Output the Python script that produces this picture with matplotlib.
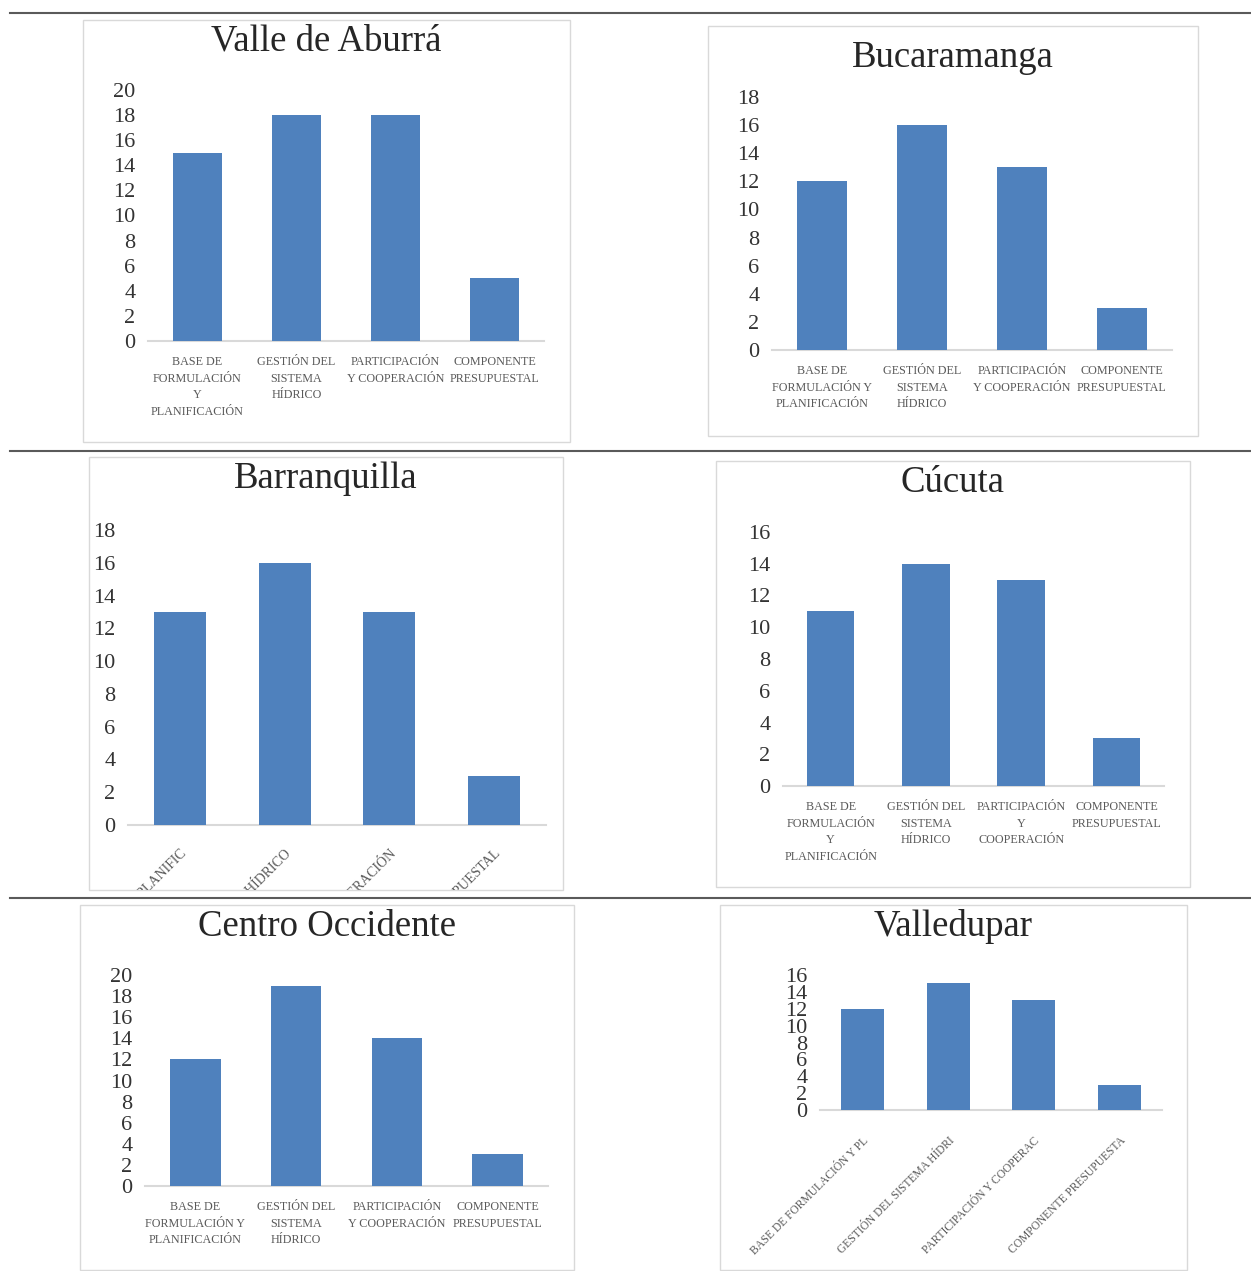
import matplotlib.pyplot as plt
from matplotlib.patches import Rectangle
from matplotlib.lines import Line2D

W, H = 1251, 1271

titles = ["Valle de Aburrá", "Bucaramanga", "Barranquilla", "Cúcuta",
          "Centro Occidente", "Valledupar"]

valle_aburra = [15, 18, 18, 5]
bucaramanga = [12, 16, 13, 3]
barranquilla = [13, 16, 13, 3]
cucuta = [11, 14, 13, 3]
centro_occidente = [12, 19, 14, 3]
valledupar = [12, 15, 13, 3]

ymax = [20, 18, 18, 16, 20, 16]

labels_a = ["BASE DE\nFORMULACIÓN\nY\nPLANIFICACIÓN", "GESTIÓN DEL\nSISTEMA\nHÍDRICO",
            "PARTICIPACIÓN\nY COOPERACIÓN", "COMPONENTE\nPRESUPUESTAL"]
labels_b = ["BASE DE\nFORMULACIÓN Y\nPLANIFICACIÓN", "GESTIÓN DEL\nSISTEMA\nHÍDRICO",
            "PARTICIPACIÓN\nY COOPERACIÓN", "COMPONENTE\nPRESUPUESTAL"]
labels_c = ["BASE DE FORMULACIÓN Y PLANIFIC", "GESTIÓN DEL SISTEMA HÍDRICO",
            "PARTICIPACIÓN Y COOPERACIÓN", "COMPONENTE PRESUPUESTAL"]
labels_d = ["BASE DE\nFORMULACIÓN\nY\nPLANIFICACIÓN", "GESTIÓN DEL\nSISTEMA\nHÍDRICO",
            "PARTICIPACIÓN\nY\nCOOPERACIÓN", "COMPONENTE\nPRESUPUESTAL"]
labels_f = ["BASE DE FORMULACIÓN Y PL", "GESTIÓN DEL SISTEMA HÍDRI",
            "PARTICIPACIÓN Y COOPERAC", "COMPONENTE PRESUPUESTA"]

BAR = "#4f81bd"
SERIF = ["Liberation Serif", "DejaVu Serif"]


def fig_rect(x0, y0, x1, y1):
    return [x0 / W, 1 - y1 / H, (x1 - x0) / W, (y1 - y0) / H]


fig = plt.figure(figsize=(W / 100, H / 100), dpi=100)

# table rules
for y in [13, 451, 898]:
    fig.add_artist(Line2D([10 / W, 1], [1 - y / H] * 2, color="#5a5a5a", lw=1.5))

panels = [
    # box, axes, title y, values, labels, rotated
    ((83, 20, 570, 442), (148, 90, 544, 341), 41, valle_aburra, labels_a, False),
    ((708, 26, 1198, 436), (772, 97, 1172, 350), 58, bucaramanga, labels_b, False),
    ((89, 457, 563, 890), (128, 530, 546, 825), 479, barranquilla, labels_c, True),
    ((716, 461, 1190, 887), (783, 532, 1164, 786), 483, cucuta, labels_d, False),
    ((80, 905, 574, 1270), (145, 975, 548, 1186), 927, centro_occidente, labels_b, False),
    ((720, 905, 1187, 1270), (820, 975, 1162, 1110), 927, valledupar, labels_f, True),
]

for i, (box, axr, ty, vals, labs, rot) in enumerate(panels):
    bx = fig_rect(*box)
    rect = Rectangle((bx[0], bx[1]), bx[2], bx[3], transform=fig.transFigure,
                     facecolor="none", edgecolor="#d9d9d9", lw=1, zorder=-1)
    fig.add_artist(rect)
    fig.text((box[0] + box[2]) / 2 / W, 1 - ty / H, titles[i], ha="center",
             va="center", fontsize=26.5, family=SERIF, color="#262626")

    ax = fig.add_axes(fig_rect(*axr))
    ax.patch.set_alpha(0)
    x = range(len(vals))
    ax.bar(x, vals, width=0.5, color=BAR, zorder=3)
    ax.set_xlim(-0.5, 3.5)
    ax.set_ylim(0, ymax[i])
    ax.set_yticks(range(0, ymax[i] + 1, 2))
    for s in ["top", "right", "left"]:
        ax.spines[s].set_visible(False)
    ax.spines["bottom"].set_color("#d9d9d9")
    ax.spines["bottom"].set_linewidth(1.5)
    ax.tick_params(axis="y", length=0, pad=9, labelsize=16,
                   labelcolor="#333333")
    for t in ax.get_yticklabels():
        t.set_family(SERIF)
    ax.set_xticks(list(x))
    if rot:
        fs = 10 if i == 2 else 8.3
        ax.set_xticklabels(labs, rotation=45, ha="right", va="top",
                           rotation_mode="anchor", fontsize=fs, family=SERIF,
                           color="#595959")
        ax.tick_params(axis="x", length=0, pad=16 if i == 2 else 18)
        for t in ax.get_xticklabels():
            t.set_clip_on(True)
            t.set_clip_path(rect)
    else:
        ax.set_xticklabels(labs, fontsize=8.7, family=SERIF, color="#595959",
                           linespacing=1.5)
        ax.tick_params(axis="x", length=0, pad=11)

fig.savefig("out.png", dpi=100)
